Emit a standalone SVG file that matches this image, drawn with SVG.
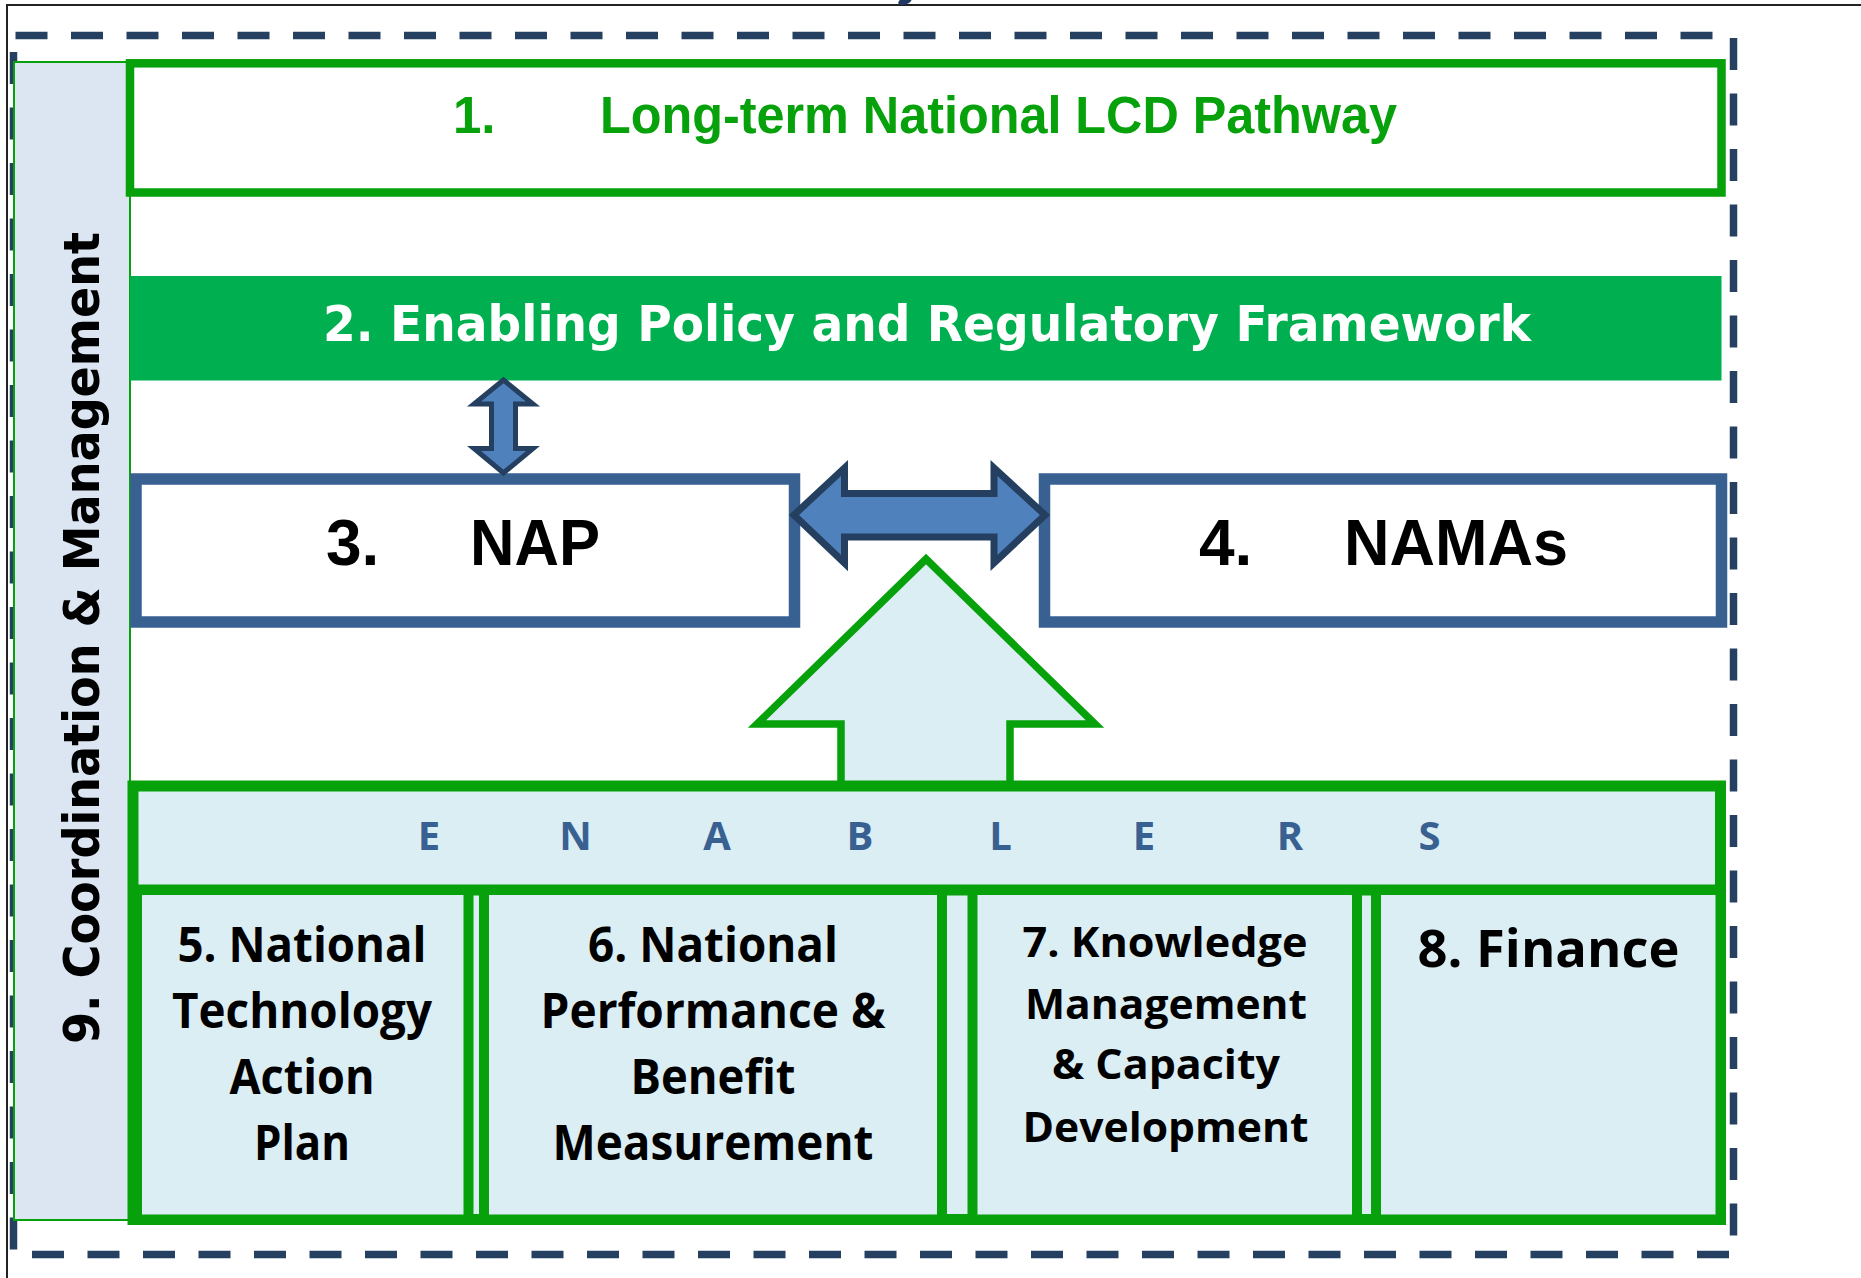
<svg xmlns="http://www.w3.org/2000/svg" width="1861" height="1278" viewBox="0 0 1861 1278">
<style>
.grn{stroke:#06a10b}
.box{stroke:#06a10b;stroke-width:10;fill:#dbeef4}
.blu{stroke:#386192;stroke-width:11.5;fill:#ffffff}
.arr{fill:#4f81bd;stroke:#243f60;stroke-linejoin:miter}
.lbl{font-family:"Open Sans","Liberation Sans",sans-serif;font-weight:700;fill:#000;text-anchor:middle}
.en{font-family:"Open Sans","Liberation Sans",sans-serif;font-weight:700;fill:#386192;font-size:40px;text-anchor:middle}
.big{font-family:"Liberation Sans",Arial,sans-serif;font-weight:700;font-size:64px;fill:#000}
</style>
<rect width="1861" height="1278" fill="#ffffff"/>
<!-- frame lines -->
<line x1="6" y1="5" x2="1861" y2="5" stroke="#222" stroke-width="2"/>
<line x1="7" y1="5" x2="7" y2="1278" stroke="#222" stroke-width="2"/>
<ellipse cx="905" cy="1" rx="7" ry="3.5" transform="rotate(-20 905 1)" fill="#1f3864"/>
<!-- dashed outer boundary -->
<rect x="13.5" y="35.5" width="1720" height="1219" fill="none" stroke="#254061" stroke-width="7.5" stroke-dasharray="32 23.5" stroke-dashoffset="-2"/>

<g id="node9">
<rect x="14" y="62" width="116" height="1158" fill="#dce6f2" stroke="#06a10b" stroke-width="2"/>
<text transform="translate(99,638) rotate(-90)" font-family="'DejaVu Sans',sans-serif" font-weight="700" font-size="50" fill="#000" text-anchor="middle" textLength="812" lengthAdjust="spacingAndGlyphs">9. Coordination &amp; Management</text>
</g>

<g id="node1">
<rect x="130" y="63.3" width="1591.5" height="129.2" fill="#ffffff" stroke="#06a10b" stroke-width="8.5"/>
<text x="453" y="133" font-family="'Liberation Sans',Arial,sans-serif" font-weight="700" font-size="51" fill="#06a10b">1.</text>
<text x="600" y="133" font-family="'Liberation Sans',Arial,sans-serif" font-weight="700" font-size="51" fill="#06a10b" textLength="797" lengthAdjust="spacingAndGlyphs">Long-term National LCD Pathway</text>
</g>

<g id="node2">
<rect x="130" y="276" width="1591.5" height="104.5" fill="#00b050"/>
<text x="323" y="341" font-family="'DejaVu Sans',sans-serif" font-weight="700" font-size="49" fill="#ffffff" textLength="1208" lengthAdjust="spacingAndGlyphs">2. Enabling Policy and Regulatory Framework</text>
</g>

<g id="node3">
<rect x="136" y="479" width="658.5" height="143" class="blu"/>
<text x="326" y="565" class="big">3.</text>
<text x="470" y="565" class="big" textLength="130" lengthAdjust="spacingAndGlyphs">NAP</text>
</g>

<g id="node4">
<rect x="1044.5" y="479" width="677" height="143" class="blu"/>
<text x="1199" y="565" class="big">4.</text>
<text x="1344" y="565" class="big" textLength="224" lengthAdjust="spacingAndGlyphs">NAMAs</text>
</g>

<g id="enablers">
<polygon points="926,559 1095,724 1010,724 1010,786 841,786 841,724 757,724" fill="#dbeef4" stroke="#06a10b" stroke-width="7.5"/>
<rect x="133" y="786" width="1587.5" height="433.5" class="box" style="stroke-width:11"/>
<line x1="133" y1="890" x2="1720.5" y2="890" stroke="#06a10b" stroke-width="11"/>
<text class="en" x="429" y="850">E</text>
<text class="en" x="575.5" y="850">N</text>
<text class="en" x="717" y="850">A</text>
<text class="en" x="860" y="850">B</text>
<text class="en" x="1000.5" y="850">L</text>
<text class="en" x="1144" y="850">E</text>
<text class="en" x="1290" y="850">R</text>
<text class="en" x="1429.5" y="850">S</text>
</g>

<g id="node5">
<rect x="137" y="890" width="331.5" height="329.5" class="box"/>
<text class="lbl" font-size="48" x="302" y="962" textLength="249" lengthAdjust="spacingAndGlyphs">5. National</text>
<text class="lbl" font-size="48" x="302" y="1028" textLength="260" lengthAdjust="spacingAndGlyphs">Technology</text>
<text class="lbl" font-size="48" x="302" y="1094" textLength="145" lengthAdjust="spacingAndGlyphs">Action</text>
<text class="lbl" font-size="48" x="302" y="1160" textLength="96" lengthAdjust="spacingAndGlyphs">Plan</text>
</g>

<g id="node6">
<rect x="484" y="890" width="458" height="329.5" class="box"/>
<text class="lbl" font-size="48" x="713" y="962" textLength="250" lengthAdjust="spacingAndGlyphs">6. National</text>
<text class="lbl" font-size="48" x="713" y="1028" textLength="345" lengthAdjust="spacingAndGlyphs">Performance &amp;</text>
<text class="lbl" font-size="48" x="713" y="1094" textLength="165" lengthAdjust="spacingAndGlyphs">Benefit</text>
<text class="lbl" font-size="48" x="713" y="1160" textLength="321" lengthAdjust="spacingAndGlyphs">Measurement</text>
</g>

<g id="node7">
<rect x="972.5" y="890" width="384.5" height="329.5" class="box"/>
<text class="lbl" font-size="42" x="1165" y="957" textLength="285" lengthAdjust="spacingAndGlyphs">7. Knowledge</text>
<text class="lbl" font-size="42" x="1166" y="1019" textLength="282" lengthAdjust="spacingAndGlyphs">Management</text>
<text class="lbl" font-size="42" x="1166" y="1079" textLength="228" lengthAdjust="spacingAndGlyphs">&amp; Capacity</text>
<text class="lbl" font-size="42" x="1165.5" y="1142" textLength="286" lengthAdjust="spacingAndGlyphs">Development</text>
</g>

<g id="node8">
<rect x="1376" y="890" width="344.5" height="329.5" class="box"/>
<text class="lbl" font-size="52" x="1548.5" y="967" textLength="262" lengthAdjust="spacingAndGlyphs">8. Finance</text>
</g>

<g id="connectors">
<polygon class="arr" stroke-width="5" points="503.5,380 533,404 515.5,404 515.5,448.5 533,448.5 503.5,473 474,448.5 491.5,448.5 491.5,404 474,404"/>
<polygon class="arr" stroke-width="7" points="794,515 844.5,468 844.5,493.5 994,493.5 994,468 1045,515 994,563 994,537 844.5,537 844.5,563"/>
</g>
</svg>
